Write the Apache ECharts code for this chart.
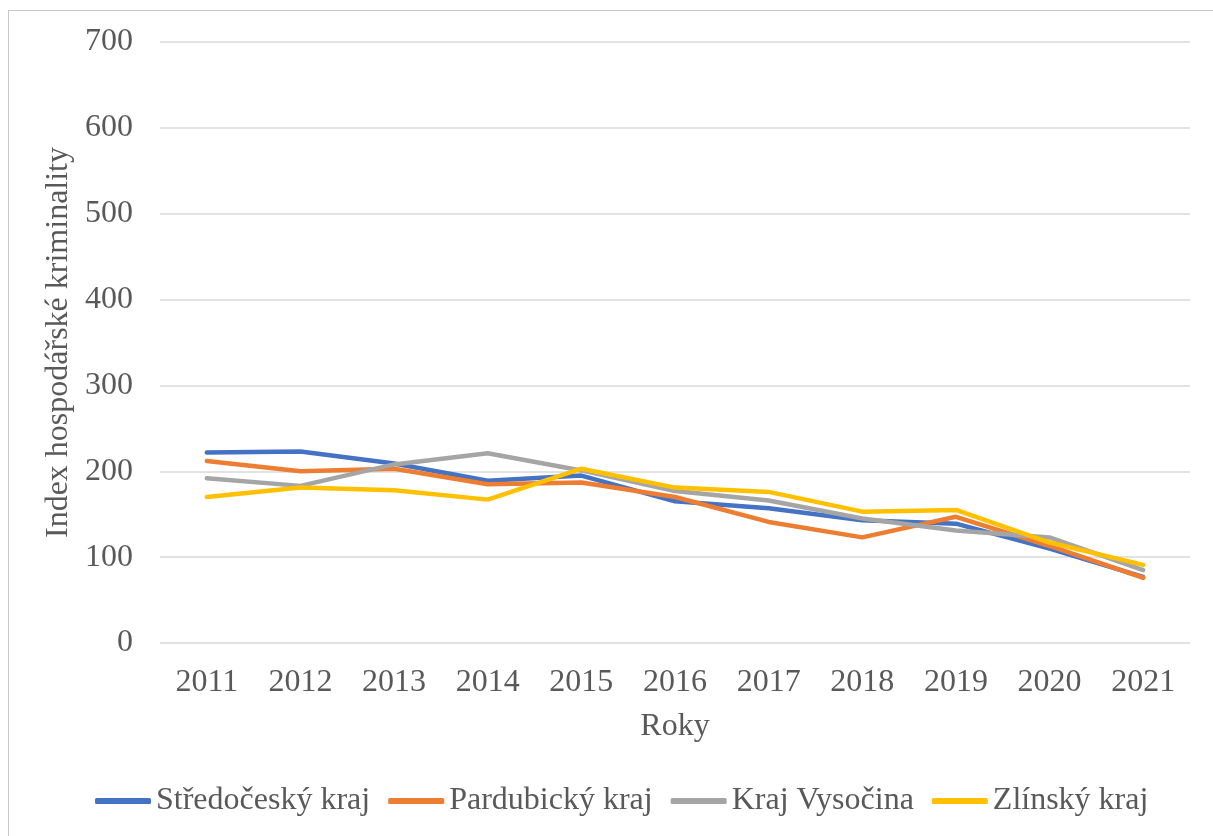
<!DOCTYPE html>
<html>
<head>
<meta charset="utf-8">
<script src="https://cdn.jsdelivr.net/npm/echarts@6/dist/echarts.min.js"></script>
<style>
  html, body { margin: 0; padding: 0; background: #fff; }
  #frame {
    position: absolute; left: 8px; top: 10px; width: 1220px; height: 840px;
    border-left: 1px solid #c8c8c8; border-top: 1px solid #c8c8c8;
  }
  #chart { position: absolute; left: 0; top: 0; width: 1213px; height: 836px; }
</style>
</head>
<body>
<div id="frame"></div>
<div id="chart"></div>
<script>
  var years = ['2011', '2012', '2013', '2014', '2015', '2016', '2017', '2018', '2019', '2020', '2021'];
  var stredocesky = [222, 223, 209, 189, 195, 165, 157, 143, 139, 110, 77];
  var pardubicky = [212, 200, 203, 185, 187, 170, 141, 123, 147, 113, 76];
  var vysocina = [192, 183, 208, 221, 201, 177, 166, 145, 131, 123, 85];
  var zlinsky = [170, 181, 178, 167, 203, 181, 176, 153, 155, 117, 91];
  var seriesNames = ['Středočeský kraj', 'Pardubický kraj', 'Kraj Vysočina', 'Zlínský kraj'];
  var colors = ['#4472c4', '#ed7d31', '#a5a5a5', '#ffc000'];

  var font = "'Liberation Serif', 'Times New Roman', serif";
  var textColor = '#595959';

  function makeLine(name, data, color) {
    return {
      name: name,
      type: 'line',
      data: data,
      symbol: 'none',
      smooth: false,
      lineStyle: { color: color, width: 4.5, cap: 'round', join: 'round' },
      itemStyle: { color: color }
    };
  }

  var chart = echarts.init(document.getElementById('chart'), null, { renderer: 'canvas' });
  chart.setOption({
    animation: false,
    textStyle: { fontFamily: font },
    grid: { left: 160, right: 23, top: 42, bottom: 193, containLabel: false },
    legend: {
      bottom: 14,
      left: 90,
      icon: 'roundRect',
      itemWidth: 56,
      itemHeight: 6,
      itemGap: 18,
      textStyle: { fontFamily: font, fontSize: 32, color: textColor },
      data: seriesNames
    },
    xAxis: {
      type: 'category',
      data: years,
      boundaryGap: true,
      name: 'Roky',
      nameLocation: 'middle',
      nameGap: 68,
      nameTextStyle: { fontFamily: font, fontSize: 32, color: textColor },
      axisLine: { show: false },
      axisTick: { show: false },
      axisLabel: { fontFamily: font, fontSize: 32, color: textColor, margin: 24 }
    },
    yAxis: {
      type: 'value',
      min: 0,
      max: 700,
      interval: 100,
      name: 'Index hospodářské kriminality',
      nameLocation: 'middle',
      nameGap: 80,
      nameTextStyle: { fontFamily: font, fontSize: 32, color: textColor },
      axisLine: { show: false },
      axisTick: { show: false },
      axisLabel: { fontFamily: font, fontSize: 32, color: textColor, margin: 27 },
      splitLine: { lineStyle: { color: '#d9d9d9', width: 1.5 } }
    },
    series: [
      makeLine(seriesNames[0], stredocesky, colors[0]),
      makeLine(seriesNames[1], pardubicky, colors[1]),
      makeLine(seriesNames[2], vysocina, colors[2]),
      makeLine(seriesNames[3], zlinsky, colors[3])
    ]
  });
</script>
</body>
</html>
